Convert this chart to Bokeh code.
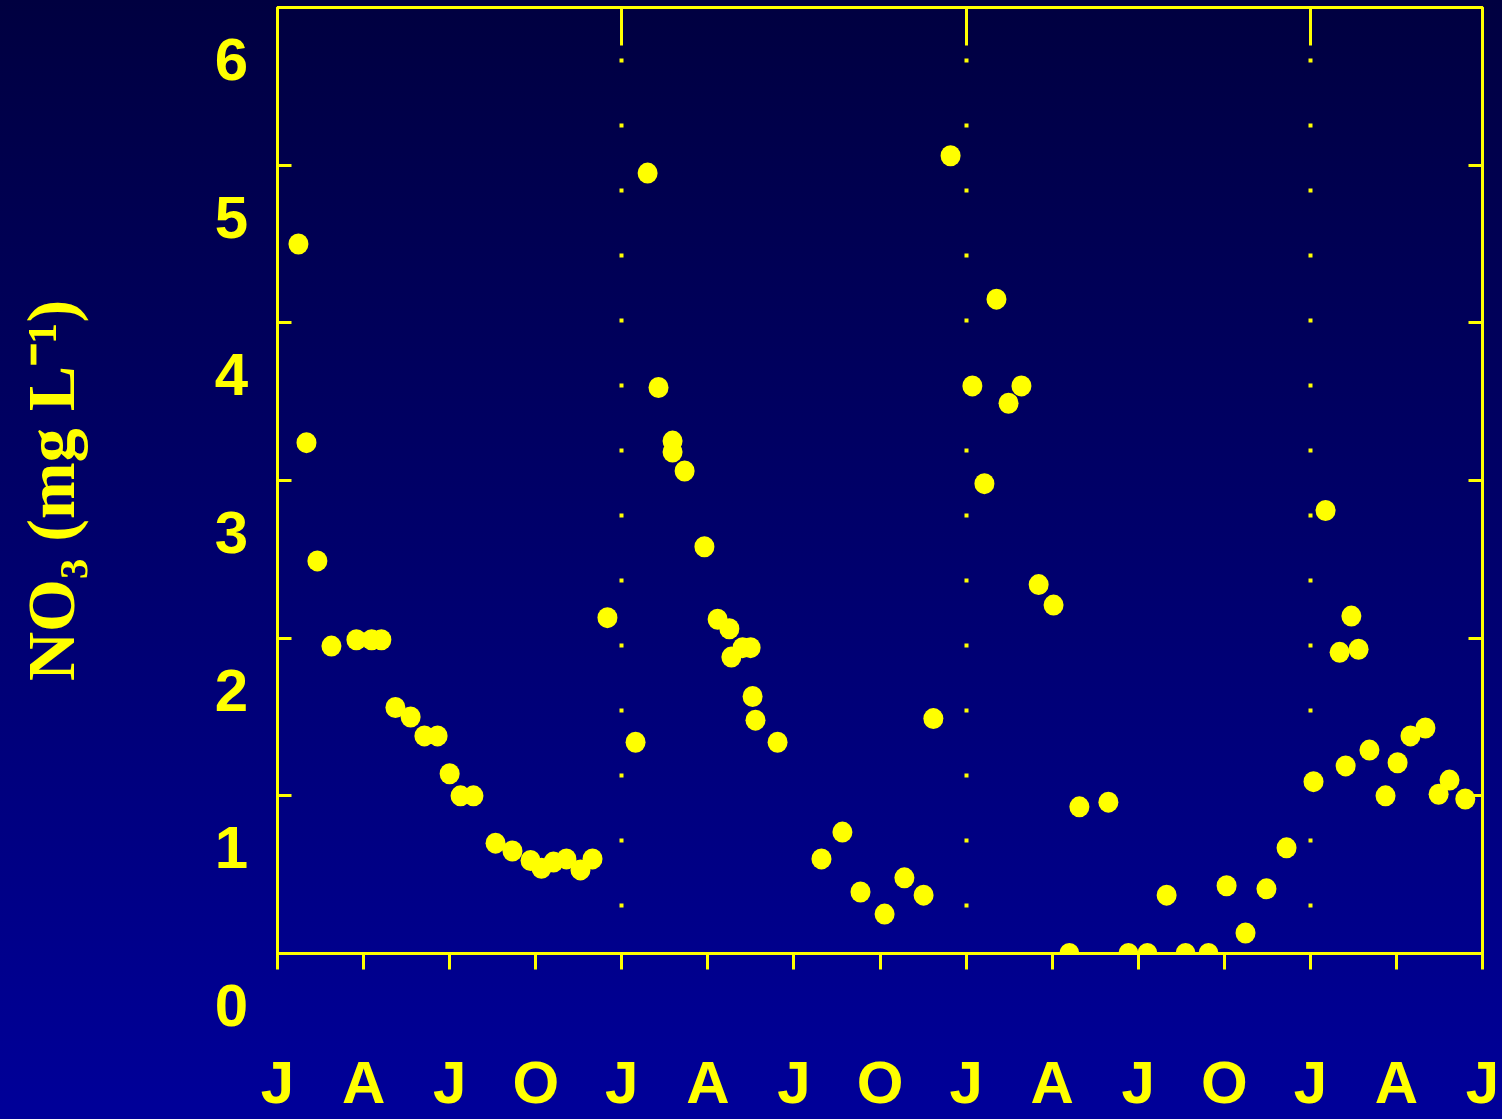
import math
from bokeh.plotting import figure
from bokeh.layouts import row
from bokeh.models import Range1d, LinearAxis, FixedTicker, ColumnDataSource
from bokeh.core.properties import value
from bokeh.embed import file_html
from bokeh.resources import INLINE

# ---- data -------------------------------------------------------------
# months since the first January tick; nitrate in mg L-1
months = [0.73, 1.01, 1.39, 1.88, 2.75, 3.28, 3.62, 4.11, 4.64, 5.12, 5.58, 6.00,
          6.38, 6.83, 7.60, 8.19, 8.82, 9.20, 9.62, 10.07, 10.56, 10.98, 11.50,
          12.48, 12.90, 13.28, 13.77, 13.77, 14.19, 14.88, 15.34, 15.75, 15.82,
          16.21, 16.49, 16.56, 16.66, 17.43, 18.96, 19.69, 20.32, 21.16, 21.85,
          22.52, 22.86, 23.46, 24.22, 24.64, 25.06, 25.48, 25.93, 26.53, 27.05,
          27.60, 27.95, 28.96, 29.66, 30.32, 30.99, 31.65, 32.45, 33.08, 33.74,
          34.47, 35.17, 36.11, 36.53, 37.02, 37.23, 37.43, 37.68, 38.06, 38.62,
          39.04, 39.49, 40.01, 40.47, 40.85, 41.40]
nitrate = [4.50, 3.24, 2.49, 1.95, 1.99, 1.99, 1.99, 1.56, 1.50, 1.38, 1.38, 1.14,
           1.00, 1.00, 0.70, 0.65, 0.59, 0.54, 0.58, 0.60, 0.53, 0.60, 2.13,
           1.34, 4.95, 3.59, 3.25, 3.18, 3.06, 2.58, 2.12, 2.06, 1.88,
           1.94, 1.94, 1.63, 1.48, 1.34, 0.60, 0.77, 0.39, 0.25, 0.48,
           0.37, 1.49, 5.06, 3.60, 2.98, 4.15, 3.49, 3.60, 2.34, 2.21,
           0.00, 0.93, 0.96, 0.00, 0.00, 0.37, 0.00, 0.00, 0.43, 0.13,
           0.41, 0.67, 1.09, 2.81, 1.91, 1.19, 2.14, 1.93, 1.29, 1.00,
           1.21, 1.38, 1.43, 1.01, 1.10, 0.98]

quarter_ticks = [0, 3, 6, 9, 12, 15, 18, 21, 24, 27, 30, 33, 36, 39, 42]
quarter_labels = ["J", "A", "J", "O", "J", "A", "J", "O",
                  "J", "A", "J", "O", "J", "A", "J"]
year_ticks = [12, 24, 36]
y_ticks = [0, 1, 2, 3, 4, 5, 6]
y_tick_labels = ["0", "1", "2", "3", "4", "5", "6"]
y_title = "NO\u2083 (mg L\u207b\u00b9)"

# ---- layout constants ---------------------------------------------------
W, H = 1502, 1119
PANEL_W = 250          # left strip holding the y tick labels and title
FRAME_LEFT = 277
FRAME_TOP = 7
FRAME_BOTTOM = 953
RIGHT_BORDER = 20

YELLOW = "#FFFF00"
TICK_FONT = "Liberation Sans"
BG = {"background": "linear-gradient(to bottom, #000040 0%, #000099 100%)"}

ymin, ymax = y_ticks[0], y_ticks[-1]
px_per_unit = (FRAME_BOTTOM - FRAME_TOP) / (ymax - ymin)

# ---- main plot ---------------------------------------------------------
p = figure(width=W - PANEL_W, height=H, output_backend="svg", toolbar_location=None,
           x_range=Range1d(quarter_ticks[0], quarter_ticks[-1]),
           y_range=Range1d(ymin, ymax),
           x_axis_location=None, y_axis_location=None,
           min_border_left=FRAME_LEFT - PANEL_W, min_border_right=RIGHT_BORDER,
           min_border_top=FRAME_TOP, min_border_bottom=H - FRAME_BOTTOM)
p.frame_align = False
p.background_fill_alpha = 0
p.border_fill_alpha = 0
p.styles = BG
p.outline_line_color = YELLOW
p.outline_line_width = 3
p.ygrid.grid_line_color = None

# dotted year separators
p.xgrid.ticker = FixedTicker(ticks=year_ticks)
p.xgrid.grid_line_color = YELLOW
p.xgrid.grid_line_width = 4
p.xgrid.grid_line_dash = "4 61"
p.xgrid.grid_line_dash_offset = 19


def style_axis(ax, t_in, t_out, labels=False):
    ax.axis_line_color = YELLOW
    ax.axis_line_width = 3
    ax.major_tick_line_color = YELLOW
    ax.major_tick_line_width = 3
    ax.major_tick_in = t_in
    ax.major_tick_out = t_out
    ax.minor_tick_line_color = None
    if not labels:
        ax.major_label_text_color = None
        ax.major_label_text_font_size = "0px"
        ax.major_label_standoff = 0


bottom = LinearAxis(ticker=FixedTicker(ticks=quarter_ticks),
                    major_label_overrides={t: l for t, l in zip(quarter_ticks, quarter_labels)})
style_axis(bottom, 0, 16, labels=True)
bottom.major_label_text_font = TICK_FONT
bottom.major_label_text_font_style = "bold"
bottom.major_label_text_font_size = "60px"
bottom.major_label_text_color = YELLOW
bottom.major_label_standoff = 79
p.add_layout(bottom, "below")

top = LinearAxis(ticker=FixedTicker(ticks=year_ticks))
style_axis(top, 38, 0)
p.add_layout(top, "above")

left = LinearAxis(ticker=FixedTicker(ticks=y_ticks))
style_axis(left, 14, 0)
p.add_layout(left, "left")

right = LinearAxis(ticker=FixedTicker(ticks=y_ticks))
style_axis(right, 14, 0)
p.add_layout(right, "right")

src = ColumnDataSource(dict(m=months, n=nitrate))
p.ellipse(x="m", y="n", width=20, height=21, width_units="screen",
          height_units="screen", source=src, fill_color=YELLOW, line_color=None)

# ---- left strip: y tick labels and axis title -------------------------
panel = figure(width=PANEL_W, height=H, output_backend="svg", toolbar_location=None,
               title=None,
               x_range=Range1d(0, PANEL_W),
               y_range=Range1d(ymin - (H - FRAME_BOTTOM) / px_per_unit,
                               ymax + FRAME_TOP / px_per_unit),
               x_axis_location=None, y_axis_location=None,
               min_border=0)
panel.frame_align = False
panel.background_fill_alpha = 0
panel.border_fill_alpha = 0
panel.styles = BG
panel.outline_line_color = None
panel.xgrid.grid_line_color = None
panel.ygrid.grid_line_color = None

# tick labels sit about 52 px below their tick marks in the original
lab_src = ColumnDataSource(dict(x=[FRAME_LEFT - 46] * len(y_ticks), y=y_ticks,
                                text=y_tick_labels))
panel.text(x="x", y="y", text="text", source=lab_src, y_offset=52,
           text_align="center", text_baseline="middle",
           text_font=value(TICK_FONT), text_font_style="bold",
           text_font_size="60px", text_color=YELLOW)

title_src = ColumnDataSource(dict(x=[50], y=[(ymin + ymax) / 2], text=[y_title]))
panel.text(x="x", y="y", text="text", source=title_src, angle=math.pi / 2,
           y_offset=10, text_align="center", text_baseline="middle",
           text_font=value("Liberation Serif"), text_font_style="bold",
           text_font_size="68px", text_color=YELLOW)

layout = row(panel, p)
open("out.html", "w").write(file_html(layout, INLINE))
